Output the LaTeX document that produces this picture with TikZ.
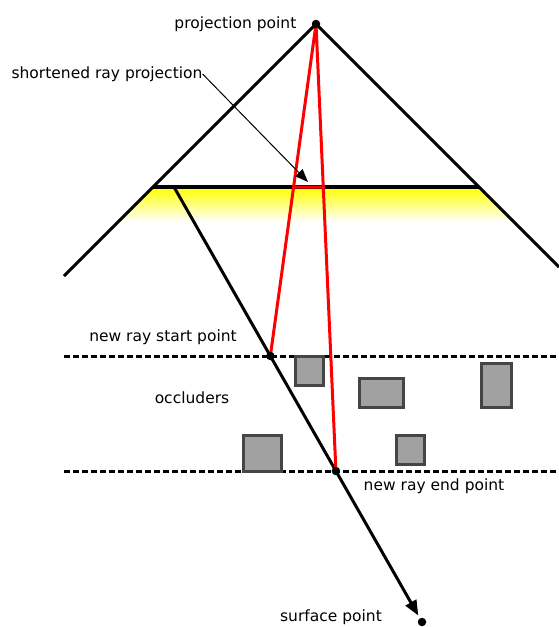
\documentclass[tikz,border=0pt]{standalone}
\usepackage{fontspec}
\setmainfont{DejaVu Sans}
\usetikzlibrary{arrows.meta, positioning, calc}

\begin{document}
\begin{tikzpicture}[x=1pt, y=-1pt,
  lbl/.style={font=\fontsize{15.5}{18}\selectfont, inner sep=0pt},
  dot/.style={circle, fill=black, inner sep=0pt, minimum size=8.5pt},
  edge/.style={line width=3pt},
  redray/.style={red, line width=3pt, line join=round},
  plane/.style={line width=3pt, dash pattern=on 6pt off 3pt},
  occluder/.style={draw=black!73, fill=black!37, line width=3pt}]
  \useasboundingbox (0,0) rectangle (559,627);

  % frustum and near plane
  \coordinate (proj) at (316,24);
  \coordinate (nl) at (153,187);
  \coordinate (nr) at (479,187);
  \coordinate (fl) at (64,276);
  \coordinate (fr) at (559,267);
  \shade[top color=yellow, bottom color=white] (nl) -- (nr) -- (514,222) -- (118,222) -- cycle;
  \draw[edge] (fl) -- (proj) -- (fr);
  \draw[line width=3.5pt] (nl) -- (nr);

  % occluder slab
  \coordinate (sl) at (64,356);
  \coordinate (sr) at (559,356);
  \coordinate (el) at (64,471);
  \coordinate (er) at (559,471);
  \draw[plane] (sl) -- (sr);
  \draw[plane] (el) -- (er);
  \draw[occluder] (295,356) rectangle (323,385);
  \draw[occluder] (359,378) rectangle (403,407);
  \draw[occluder] (481,363) rectangle (511,407);
  \draw[occluder] (243,435) rectangle (281,471);
  \draw[occluder] (396,435) rectangle (424,464);

  % the ray
  \coordinate (rs) at (174,187);
  \coordinate (surf) at (422,622);
  \coordinate (sp) at ($(rs)!0.3885!(surf)$);
  \coordinate (ep) at ($(rs)!0.6529!(surf)$);
  \draw[edge, -{Triangle[length=15pt, width=12pt]}] (rs) -- ($(rs)!0.985!(surf)$);

  % projected segment
  \draw[redray] (sp) -- (proj) -- (ep);
  \draw[redray] ($(proj)!0.491!(sp)$) -- ($(proj)!0.3647!(ep)$);
  \coordinate (tip) at (308,182);

  \node[dot] (projdot) at (proj) {};
  \node[dot] (spdot) at (sp) {};
  \node[dot] (epdot) at (ep) {};
  \node[dot] (surfdot) at (surf) {};

  % labels
  \node[lbl, left=15pt of projdot] (projlbl) {projection point};
  \node[lbl] (shortlbl) at (107,74) {shortened ray projection};
  \draw[line width=1pt, -{Triangle[length=13pt, width=10pt]}] (shortlbl.east) -- (tip);
  \node[lbl] (startlbl) at (163,337) {new ray start point};
  \node[lbl] (occlbl) at (192,398) {occluders};
  \node[lbl] (endlbl) at (434,486) {new ray end point};
  \node[lbl] (surflbl) at (331,617) {surface point};
\end{tikzpicture}
\end{document}
